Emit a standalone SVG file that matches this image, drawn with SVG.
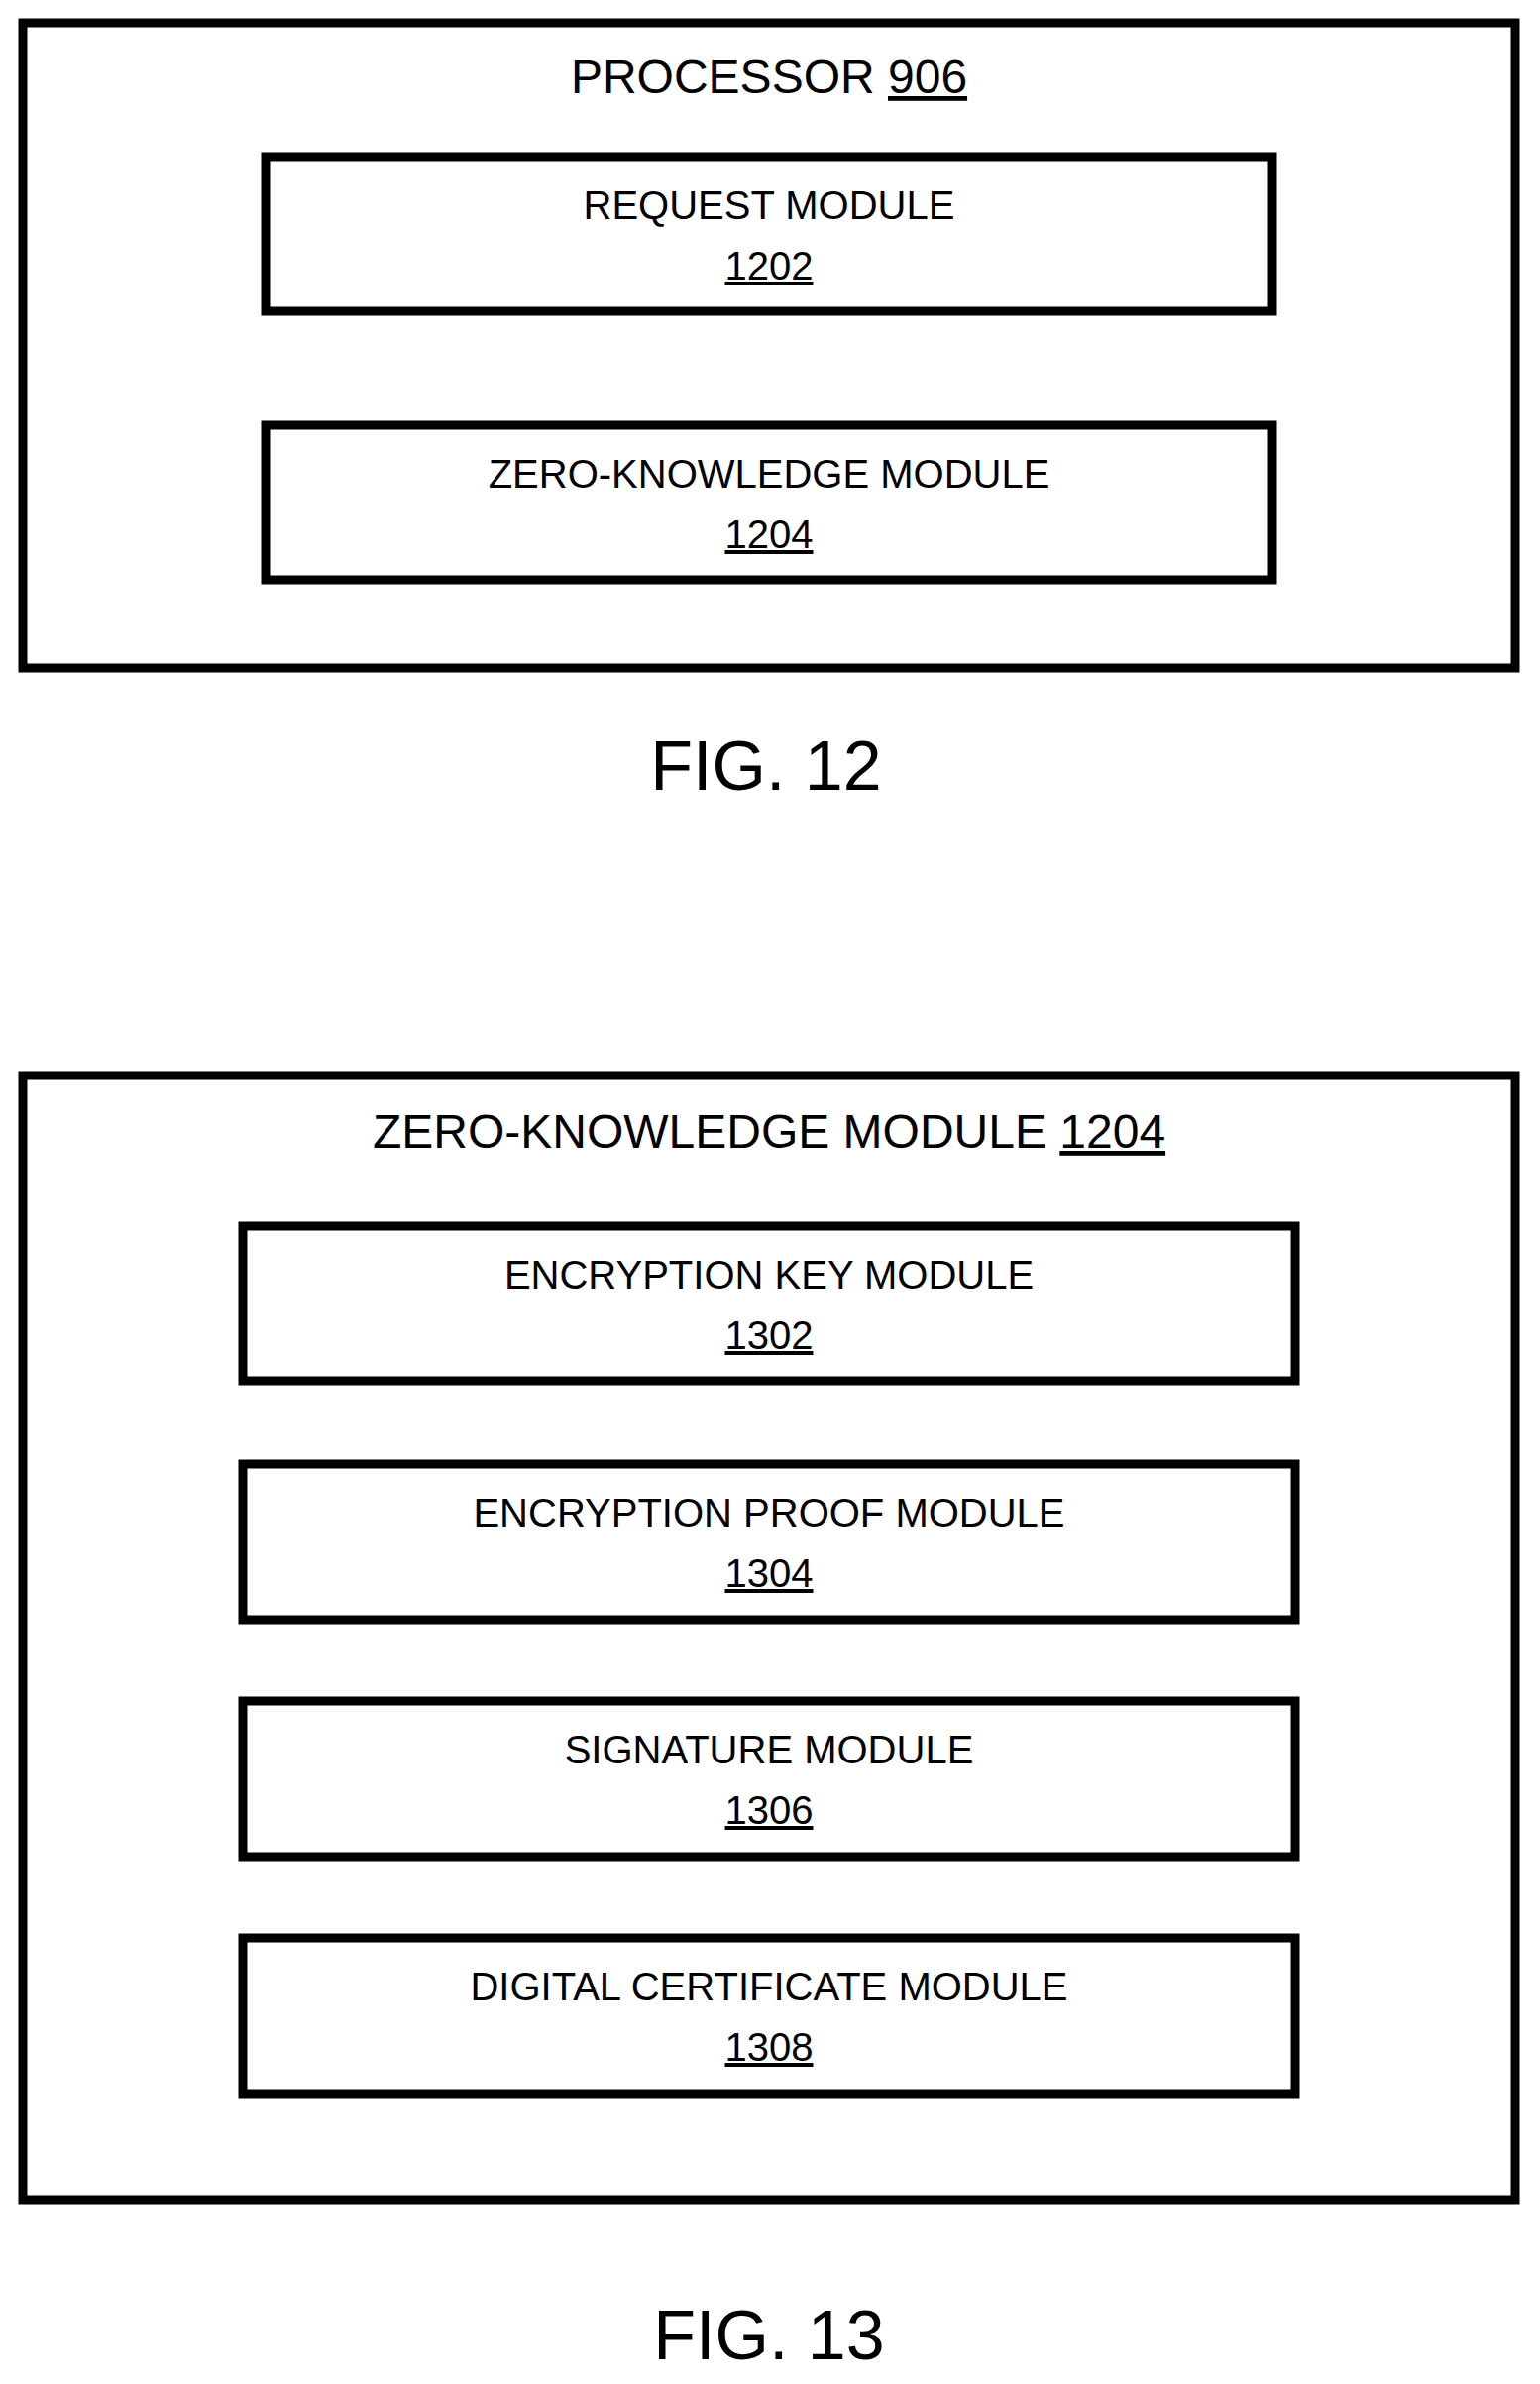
<svg xmlns="http://www.w3.org/2000/svg" width="1554" height="2405" viewBox="0 0 1554 2405">
<style>
rect{fill:none;stroke:#000;stroke-width:9}
text{font-family:"Liberation Sans",Arial,sans-serif;font-size:40px;text-anchor:middle;fill:#000}
.t{font-size:48px}
.f{font-size:70px}
.u{text-decoration:underline}
</style>
<rect x="0" y="0" width="1554" height="2405" style="fill:#fff;stroke:none"/>
<g id="processor906"><rect x="23" y="23" width="1506" height="651"/><text class="t" x="776" y="94">PROCESSOR <tspan class="u">906</tspan></text></g>
<g id="request1202"><rect x="268" y="158" width="1016" height="156"/><text x="776" y="221">REQUEST MODULE</text><text class="u" x="776" y="282">1202</text></g>
<g id="zk1204"><rect x="268" y="429" width="1016" height="156"/><text x="776" y="492">ZERO-KNOWLEDGE MODULE</text><text class="u" x="776" y="553">1204</text></g>
<text id="fig12" class="f" x="773" y="797">FIG. 12</text>
<g id="zkmodule1204"><rect x="23" y="1085" width="1506" height="1134"/><text class="t" x="776" y="1158">ZERO-KNOWLEDGE MODULE <tspan class="u">1204</tspan></text></g>
<g id="m1302"><rect x="245" y="1237" width="1062" height="156"/><text x="776" y="1300">ENCRYPTION KEY MODULE</text><text class="u" x="776" y="1361">1302</text></g>
<g id="m1304"><rect x="245" y="1477" width="1062" height="157"/><text x="776" y="1540">ENCRYPTION PROOF MODULE</text><text class="u" x="776" y="1601">1304</text></g>
<g id="m1306"><rect x="245" y="1716" width="1062" height="157"/><text x="776" y="1779">SIGNATURE MODULE</text><text class="u" x="776" y="1840">1306</text></g>
<g id="m1308"><rect x="245" y="1955" width="1062" height="157"/><text x="776" y="2018">DIGITAL CERTIFICATE MODULE</text><text class="u" x="776" y="2079">1308</text></g>
<text id="fig13" class="f" x="776" y="2380">FIG. 13</text>
<g id="connectors"/>
</svg>
